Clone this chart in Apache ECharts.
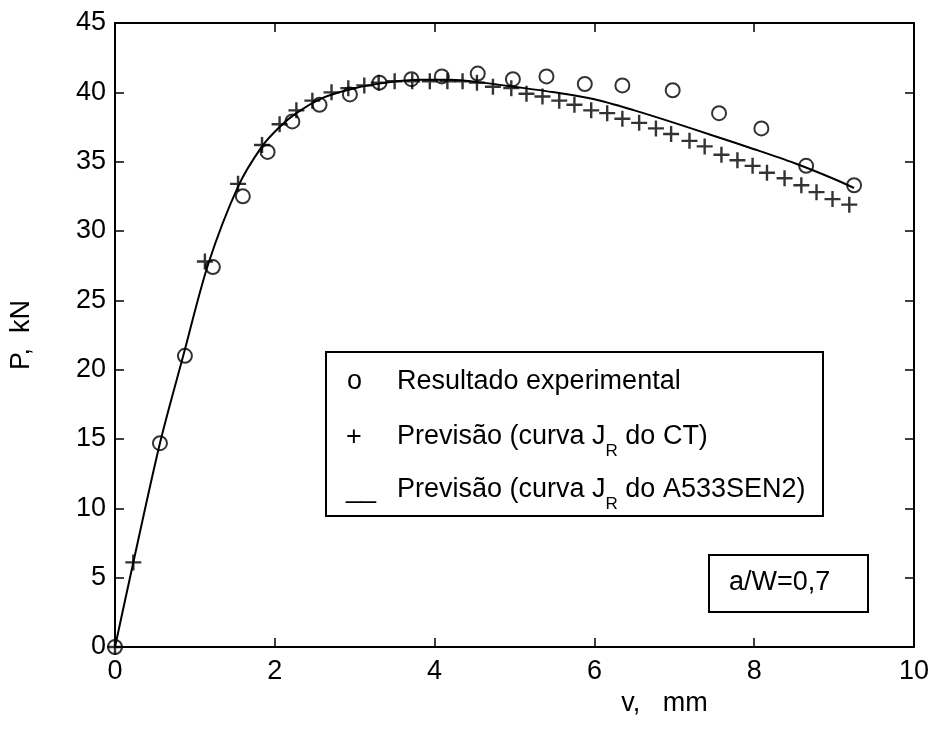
<!DOCTYPE html>
<html>
<head>
<meta charset="utf-8">
<script src="https://cdn.jsdelivr.net/npm/echarts@6/dist/echarts.min.js"></script>
<style>
html,body{margin:0;padding:0;background:#fff;}
#chart{width:935px;height:729px;}
</style>
</head>
<body>
<div id="chart"></div>
<script>
// Experimental result (circles): [v mm, P kN]
const experimental = [
  [0, 0], [0.5625, 14.7], [0.875, 21.0], [1.225, 27.4], [1.6, 32.5], [1.91, 35.7],
  [2.22, 37.9], [2.56, 39.1], [2.94, 39.85], [3.31, 40.7], [3.71, 40.95], [4.09, 41.15],
  [4.54, 41.35], [4.98, 40.95], [5.4, 41.15], [5.88, 40.6], [6.35, 40.5], [6.98, 40.15],
  [7.56, 38.5], [8.09, 37.4], [8.65, 34.7], [9.25, 33.3]
];
// Prediction with CT J_R curve (plus markers)
const predictionCT = [
  [0, 0], [0.229, 6.1], [1.125, 27.8], [1.54, 33.4], [1.84, 36.2], [2.06, 37.7],
  [2.27, 38.7], [2.47, 39.4], [2.71, 40.0], [2.92, 40.3], [3.12, 40.5], [3.3, 40.7],
  [3.5, 40.8], [3.72, 40.8], [3.94, 40.8], [4.16, 40.8], [4.35, 40.8], [4.53, 40.7],
  [4.73, 40.4], [4.96, 40.3], [5.15, 39.9], [5.35, 39.7], [5.56, 39.4], [5.75, 39.1],
  [5.96, 38.7], [6.16, 38.5], [6.35, 38.1], [6.56, 37.8], [6.77, 37.4], [6.96, 37.0],
  [7.19, 36.5], [7.38, 36.1], [7.59, 35.5], [7.79, 35.1], [7.98, 34.7], [8.16, 34.2],
  [8.38, 33.8], [8.59, 33.3], [8.78, 32.8], [8.98, 32.3], [9.19, 31.9]
];
// Prediction with A533SEN2 J_R curve (solid line)
const predictionA533 = [
  [0, 0], [0.229, 6.1], [0.5625, 14.7], [0.854, 21.0], [1.166, 27.6], [1.54, 33.2],
  [1.84, 36.1], [2.06, 37.5], [2.27, 38.5], [2.6, 39.6], [3.0, 40.3], [3.4, 40.7],
  [3.8, 40.9], [4.2, 40.9], [4.6, 40.7], [5.0, 40.4], [5.5, 40.0], [6.0, 39.5],
  [6.5, 38.7], [7.0, 37.8], [7.5, 36.85], [8.0, 35.9], [8.5, 34.9], [9.0, 33.75],
  [9.25, 33.1]
];
const xTicks = [0, 2, 4, 6, 8, 10];
const yTicks = [0, 5, 10, 15, 20, 25, 30, 35, 40, 45];
const seriesNames = ['Resultado experimental', 'Previsão (curva J_R do CT)', 'Previsão (curva J_R do A533SEN2)'];

const FONT = '"Liberation Sans", Arial, Helvetica, sans-serif';
const FS = 27;
const chart = echarts.init(document.getElementById('chart'), null, {renderer: 'canvas'});

const axisCommon = {
  axisLine: {show: true, onZero: false, lineStyle: {color: '#000', width: 2}},
  axisTick: {show: true, inside: true, length: 9, lineStyle: {color: '#000', width: 1.5}},
  splitLine: {show: false}
};
const labelStyle = {color: '#000', fontFamily: FONT, fontSize: FS};

const plusPath = 'path://M8.5,0H11.5V20H8.5Z M0,8.5H20V11.5H0Z';

const legendRich = {
  t: {fontFamily: FONT, fontSize: FS, color: '#000'},
  s: {fontFamily: FONT, fontSize: 17, color: '#000', verticalAlign: 'bottom', padding: [0, 0, -10, 0]}
};
function legendLabel(name) {
  const parts = name.split('J_R');
  if (parts.length === 1) return '{t|' + name + '}';
  return '{t|' + parts[0] + 'J}{s|R}{t|' + parts[1] + '}';
}

chart.setOption({
  backgroundColor: '#fff',
  animation: false,
  grid: {left: 115, right: 21, top: 23, bottom: 82, containLabel: false},
  xAxis: [
    Object.assign({}, axisCommon, {
      type: 'value', min: xTicks[0], max: xTicks[xTicks.length - 1], interval: 2,
      position: 'bottom',
      name: 'v,   mm', nameLocation: 'middle', nameGap: 20,
      nameTextStyle: {color: '#000', fontFamily: FONT, fontSize: FS, padding: [0, 0, 0, 300]},
      axisLabel: Object.assign({margin: 11}, labelStyle)
    }),
    Object.assign({}, axisCommon, {
      type: 'value', min: xTicks[0], max: xTicks[xTicks.length - 1], interval: 2,
      position: 'top', axisLabel: {show: false}
    })
  ],
  yAxis: [
    Object.assign({}, axisCommon, {
      type: 'value', min: yTicks[0], max: yTicks[yTicks.length - 1], interval: 5,
      position: 'left',
      name: 'P,  kN', nameLocation: 'middle', nameGap: 80,
      nameTextStyle: {color: '#000', fontFamily: FONT, fontSize: FS},
      axisLabel: Object.assign({margin: 9}, labelStyle)
    }),
    Object.assign({}, axisCommon, {
      type: 'value', min: yTicks[0], max: yTicks[yTicks.length - 1], interval: 5,
      position: 'right', axisLabel: {show: false}
    })
  ],
  series: [
    {
      name: seriesNames[2], type: 'line', data: predictionA533, showSymbol: false,
      smooth: 0.3, lineStyle: {color: '#000', width: 2}, z: 2
    },
    {
      name: seriesNames[1], type: 'scatter', data: predictionCT, symbol: plusPath,
      symbolSize: 16, itemStyle: {color: '#000'}, z: 3
    },
    {
      name: seriesNames[0], type: 'scatter', data: experimental, symbol: 'circle',
      symbolSize: 14, itemStyle: {color: 'rgba(0,0,0,0)', borderColor: '#000', borderWidth: 2}, z: 4
    }
  ],
  graphic: [
    {
      type: 'rect', left: 325, top: 351, z: 10,
      shape: {width: 497, height: 164},
      style: {fill: '#fff', stroke: '#000', lineWidth: 2}
    },
    {type: 'text', left: 347, top: 368, z: 11, style: {text: 'o', font: FS + 'px ' + FONT, fill: '#000'}},
    {type: 'text', left: 346, top: 424, z: 11, style: {text: '+', font: FS + 'px ' + FONT, fill: '#000'}},
    {type: 'text', left: 346, top: 476, z: 11, style: {text: '__', font: FS + 'px ' + FONT, fill: '#000'}},
    {type: 'text', left: 397, top: 368, z: 11, style: {text: legendLabel(seriesNames[0]), rich: legendRich}},
    {type: 'text', left: 397, top: 423, z: 11, style: {text: legendLabel(seriesNames[1]), rich: legendRich}},
    {type: 'text', left: 397, top: 476, z: 11, style: {text: legendLabel(seriesNames[2]), rich: legendRich}},
    {
      type: 'rect', left: 708, top: 554, z: 10,
      shape: {width: 159, height: 57},
      style: {fill: '#fff', stroke: '#000', lineWidth: 2}
    },
    {type: 'text', left: 729, top: 569, z: 11, style: {text: 'a/W=0,7', font: FS + 'px ' + FONT, fill: '#000'}}
  ]
});
</script>
</body>
</html>
